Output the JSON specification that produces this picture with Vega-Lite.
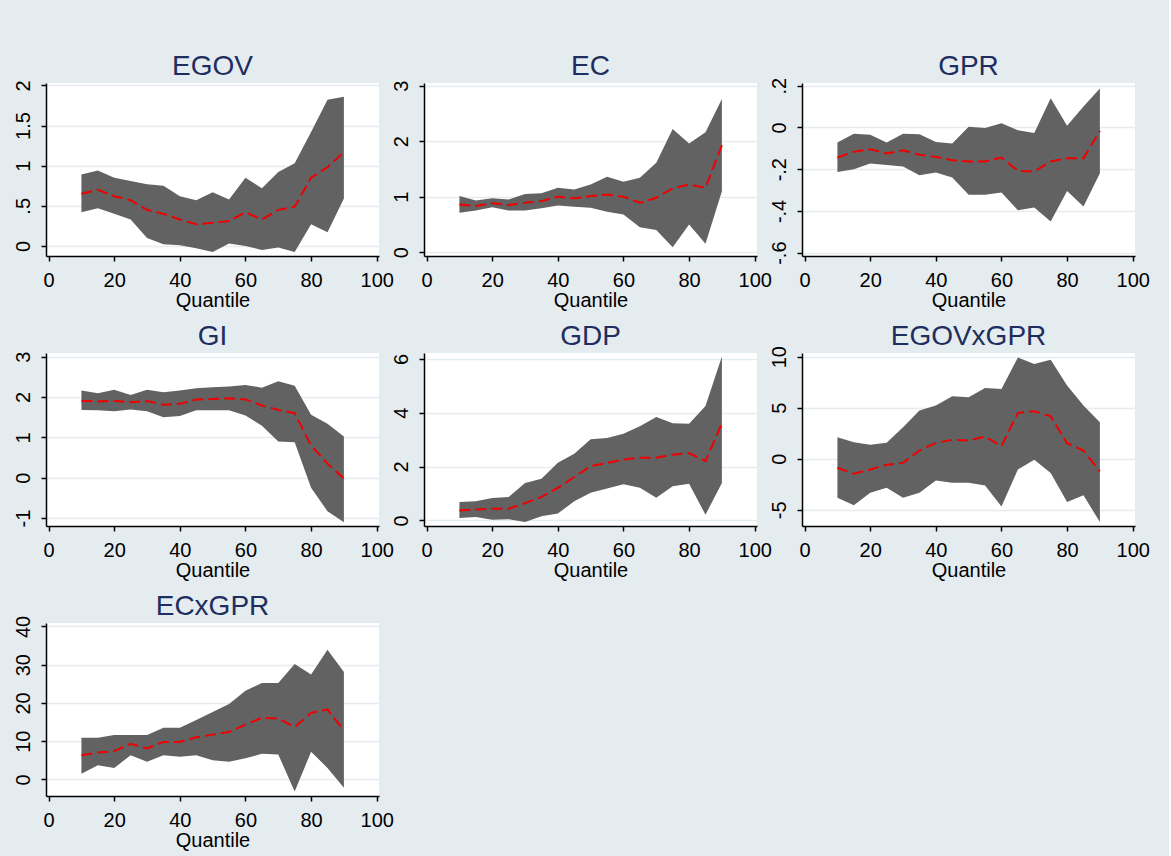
{
  "$schema": "https://vega.github.io/schema/vega-lite/v6.json",
  "padding": {"left": 12, "top": 52, "right": 19, "bottom": 13},
  "bounds": "flush",
  "columns": 3,
  "spacing": {"row": 97, "column": 45},
  "datasets": {
    "qr": [
      {"v":"EGOV","q":10,"lo":0.42,"hi":0.89,"b":0.65},{"v":"EGOV","q":15,"lo":0.47,"hi":0.94,"b":0.70},{"v":"EGOV","q":20,"lo":0.40,"hi":0.85,"b":0.62},{"v":"EGOV","q":25,"lo":0.33,"hi":0.81,"b":0.57},{"v":"EGOV","q":30,"lo":0.10,"hi":0.77,"b":0.45},{"v":"EGOV","q":35,"lo":0.02,"hi":0.75,"b":0.40},{"v":"EGOV","q":40,"lo":0.01,"hi":0.62,"b":0.33},{"v":"EGOV","q":45,"lo":-0.03,"hi":0.57,"b":0.27},{"v":"EGOV","q":50,"lo":-0.075,"hi":0.67,"b":0.29},{"v":"EGOV","q":55,"lo":0.03,"hi":0.58,"b":0.31},{"v":"EGOV","q":60,"lo":0.0,"hi":0.85,"b":0.42},{"v":"EGOV","q":65,"lo":-0.05,"hi":0.72,"b":0.33},{"v":"EGOV","q":70,"lo":-0.02,"hi":0.92,"b":0.45},{"v":"EGOV","q":75,"lo":-0.075,"hi":1.03,"b":0.49},{"v":"EGOV","q":80,"lo":0.27,"hi":1.42,"b":0.85},{"v":"EGOV","q":85,"lo":0.17,"hi":1.82,"b":0.98},{"v":"EGOV","q":90,"lo":0.59,"hi":1.86,"b":1.17},
      {"v":"EC","q":10,"lo":0.71,"hi":1.01,"b":0.86},{"v":"EC","q":15,"lo":0.75,"hi":0.93,"b":0.83},{"v":"EC","q":20,"lo":0.81,"hi":0.97,"b":0.88},{"v":"EC","q":25,"lo":0.75,"hi":0.95,"b":0.85},{"v":"EC","q":30,"lo":0.75,"hi":1.05,"b":0.89},{"v":"EC","q":35,"lo":0.79,"hi":1.06,"b":0.92},{"v":"EC","q":40,"lo":0.84,"hi":1.16,"b":1.0},{"v":"EC","q":45,"lo":0.82,"hi":1.13,"b":0.97},{"v":"EC","q":50,"lo":0.80,"hi":1.22,"b":1.01},{"v":"EC","q":55,"lo":0.73,"hi":1.36,"b":1.04},{"v":"EC","q":60,"lo":0.68,"hi":1.27,"b":1.0},{"v":"EC","q":65,"lo":0.45,"hi":1.34,"b":0.89},{"v":"EC","q":70,"lo":0.40,"hi":1.61,"b":0.98},{"v":"EC","q":75,"lo":0.09,"hi":2.22,"b":1.15},{"v":"EC","q":80,"lo":0.50,"hi":1.96,"b":1.22},{"v":"EC","q":85,"lo":0.15,"hi":2.16,"b":1.16},{"v":"EC","q":90,"lo":1.10,"hi":2.76,"b":1.93},
      {"v":"GPR","q":10,"lo":-0.213,"hi":-0.072,"b":-0.144},{"v":"GPR","q":15,"lo":-0.2,"hi":-0.03,"b":-0.117},{"v":"GPR","q":20,"lo":-0.173,"hi":-0.035,"b":-0.104},{"v":"GPR","q":25,"lo":-0.18,"hi":-0.072,"b":-0.125},{"v":"GPR","q":30,"lo":-0.187,"hi":-0.03,"b":-0.109},{"v":"GPR","q":35,"lo":-0.229,"hi":-0.032,"b":-0.131},{"v":"GPR","q":40,"lo":-0.216,"hi":-0.07,"b":-0.141},{"v":"GPR","q":45,"lo":-0.24,"hi":-0.077,"b":-0.157},{"v":"GPR","q":50,"lo":-0.322,"hi":0.003,"b":-0.163},{"v":"GPR","q":55,"lo":-0.322,"hi":-0.003,"b":-0.163},{"v":"GPR","q":60,"lo":-0.312,"hi":0.02,"b":-0.144},{"v":"GPR","q":65,"lo":-0.397,"hi":-0.013,"b":-0.208},{"v":"GPR","q":70,"lo":-0.384,"hi":-0.027,"b":-0.211},{"v":"GPR","q":75,"lo":-0.451,"hi":0.14,"b":-0.163},{"v":"GPR","q":80,"lo":-0.304,"hi":0.008,"b":-0.147},{"v":"GPR","q":85,"lo":-0.379,"hi":0.10,"b":-0.147},{"v":"GPR","q":90,"lo":-0.219,"hi":0.187,"b":-0.016},
      {"v":"GI","q":10,"lo":1.68,"hi":2.16,"b":1.91},{"v":"GI","q":15,"lo":1.67,"hi":2.09,"b":1.89},{"v":"GI","q":20,"lo":1.65,"hi":2.18,"b":1.91},{"v":"GI","q":25,"lo":1.69,"hi":2.05,"b":1.87},{"v":"GI","q":30,"lo":1.65,"hi":2.18,"b":1.90},{"v":"GI","q":35,"lo":1.50,"hi":2.12,"b":1.81},{"v":"GI","q":40,"lo":1.53,"hi":2.16,"b":1.83},{"v":"GI","q":45,"lo":1.67,"hi":2.22,"b":1.94},{"v":"GI","q":50,"lo":1.67,"hi":2.24,"b":1.95},{"v":"GI","q":55,"lo":1.67,"hi":2.26,"b":1.97},{"v":"GI","q":60,"lo":1.54,"hi":2.30,"b":1.94},{"v":"GI","q":65,"lo":1.29,"hi":2.23,"b":1.79},{"v":"GI","q":70,"lo":0.90,"hi":2.39,"b":1.68},{"v":"GI","q":75,"lo":0.88,"hi":2.28,"b":1.60},{"v":"GI","q":80,"lo":-0.25,"hi":1.56,"b":0.80},{"v":"GI","q":85,"lo":-0.83,"hi":1.34,"b":0.35},{"v":"GI","q":90,"lo":-1.10,"hi":1.02,"b":-0.02},
      {"v":"GDP","q":10,"lo":0.09,"hi":0.68,"b":0.37},{"v":"GDP","q":15,"lo":0.12,"hi":0.71,"b":0.40},{"v":"GDP","q":20,"lo":0.02,"hi":0.83,"b":0.43},{"v":"GDP","q":25,"lo":0.04,"hi":0.87,"b":0.43},{"v":"GDP","q":30,"lo":-0.06,"hi":1.39,"b":0.64},{"v":"GDP","q":35,"lo":0.15,"hi":1.55,"b":0.87},{"v":"GDP","q":40,"lo":0.25,"hi":2.14,"b":1.21},{"v":"GDP","q":45,"lo":0.71,"hi":2.48,"b":1.61},{"v":"GDP","q":50,"lo":1.03,"hi":3.01,"b":2.02},{"v":"GDP","q":55,"lo":1.18,"hi":3.06,"b":2.13},{"v":"GDP","q":60,"lo":1.34,"hi":3.22,"b":2.26},{"v":"GDP","q":65,"lo":1.21,"hi":3.50,"b":2.33},{"v":"GDP","q":70,"lo":0.84,"hi":3.84,"b":2.33},{"v":"GDP","q":75,"lo":1.27,"hi":3.61,"b":2.44},{"v":"GDP","q":80,"lo":1.36,"hi":3.59,"b":2.50},{"v":"GDP","q":85,"lo":0.21,"hi":4.25,"b":2.20},{"v":"GDP","q":90,"lo":1.39,"hi":6.09,"b":3.61},
      {"v":"EGOVxGPR","q":10,"lo":-3.81,"hi":2.12,"b":-0.88},{"v":"EGOVxGPR","q":15,"lo":-4.56,"hi":1.63,"b":-1.47},{"v":"EGOVxGPR","q":20,"lo":-3.32,"hi":1.37,"b":-1.04},{"v":"EGOVxGPR","q":25,"lo":-2.83,"hi":1.56,"b":-0.59},{"v":"EGOVxGPR","q":30,"lo":-3.81,"hi":3.09,"b":-0.39},{"v":"EGOVxGPR","q":35,"lo":-3.32,"hi":4.72,"b":0.81},{"v":"EGOVxGPR","q":40,"lo":-2.12,"hi":5.21,"b":1.56},{"v":"EGOVxGPR","q":45,"lo":-2.35,"hi":6.12,"b":1.86},{"v":"EGOVxGPR","q":50,"lo":-2.35,"hi":6.03,"b":1.79},{"v":"EGOVxGPR","q":55,"lo":-2.61,"hi":6.94,"b":2.18},{"v":"EGOVxGPR","q":60,"lo":-4.66,"hi":6.84,"b":1.24},{"v":"EGOVxGPR","q":65,"lo":-1.04,"hi":9.93,"b":4.50},{"v":"EGOVxGPR","q":70,"lo":-0.10,"hi":9.28,"b":4.66},{"v":"EGOVxGPR","q":75,"lo":-1.40,"hi":9.71,"b":4.17},{"v":"EGOVxGPR","q":80,"lo":-4.23,"hi":7.17,"b":1.53},{"v":"EGOVxGPR","q":85,"lo":-3.58,"hi":5.21,"b":0.81},{"v":"EGOVxGPR","q":90,"lo":-6.19,"hi":3.58,"b":-1.24},
      {"v":"ECxGPR","q":10,"lo":1.5,"hi":10.9,"b":6.3},{"v":"ECxGPR","q":15,"lo":3.7,"hi":10.9,"b":7.0},{"v":"ECxGPR","q":20,"lo":3.0,"hi":11.6,"b":7.4},{"v":"ECxGPR","q":25,"lo":6.3,"hi":11.6,"b":9.3},{"v":"ECxGPR","q":30,"lo":4.6,"hi":11.6,"b":8.1},{"v":"ECxGPR","q":35,"lo":6.3,"hi":13.5,"b":9.8},{"v":"ECxGPR","q":40,"lo":5.9,"hi":13.5,"b":9.8},{"v":"ECxGPR","q":45,"lo":6.3,"hi":15.5,"b":11.0},{"v":"ECxGPR","q":50,"lo":5.0,"hi":17.6,"b":11.7},{"v":"ECxGPR","q":55,"lo":4.6,"hi":19.7,"b":12.4},{"v":"ECxGPR","q":60,"lo":5.5,"hi":23.2,"b":14.3},{"v":"ECxGPR","q":65,"lo":6.7,"hi":25.2,"b":16.1},{"v":"ECxGPR","q":70,"lo":6.5,"hi":25.2,"b":15.9},{"v":"ECxGPR","q":75,"lo":-3.2,"hi":30.2,"b":13.7},{"v":"ECxGPR","q":80,"lo":7.2,"hi":27.4,"b":17.4},{"v":"ECxGPR","q":85,"lo":3.0,"hi":33.9,"b":18.3},{"v":"ECxGPR","q":90,"lo":-2.2,"hi":28.1,"b":12.8}
    ]
  },
  "concat": [
    {
      "title": {"text": "EGOV", "offset": -1.2}, "width": 333, "height": 173, "data": {"name": "qr"},
      "transform": [{"filter": "datum.v == 'EGOV'"}],
      "encoding": {"x": {"field": "q", "type": "quantitative", "title": "Quantile", "scale": {"domain": [-0.8, 100.7], "nice": false, "zero": false}, "axis": {"values": [0, 20, 40, 60, 80, 100]}}},
      "layer": [
        {"mark": {"type": "area", "color": "#626262", "opacity": 1}, "encoding": {"y": {"field": "lo", "type": "quantitative", "title": null, "scale": {"domain": [-0.125, 2.03], "nice": false, "zero": false}, "axis": {"values": [0, 0.5, 1, 1.5, 2]}}, "y2": {"field": "hi"}}},
        {"mark": {"type": "line", "color": "#f00000", "strokeWidth": 2, "strokeDash": [11, 5]}, "encoding": {"y": {"field": "b", "type": "quantitative", "title": null}}}
      ]
    },
    {
      "title": {"text": "EC", "offset": -0.8}, "width": 333, "height": 173, "data": {"name": "qr"},
      "transform": [{"filter": "datum.v == 'EC'"}],
      "encoding": {"x": {"field": "q", "type": "quantitative", "title": "Quantile", "scale": {"domain": [-0.8, 100.7], "nice": false, "zero": false}, "axis": {"values": [0, 20, 40, 60, 80, 100]}}},
      "layer": [
        {"mark": {"type": "area", "color": "#626262", "opacity": 1}, "encoding": {"y": {"field": "lo", "type": "quantitative", "title": null, "scale": {"domain": [-0.07, 3.05], "nice": false, "zero": false}, "axis": {"values": [0, 1, 2, 3]}}, "y2": {"field": "hi"}}},
        {"mark": {"type": "line", "color": "#f00000", "strokeWidth": 2, "strokeDash": [11, 5]}, "encoding": {"y": {"field": "b", "type": "quantitative", "title": null}}}
      ]
    },
    {
      "title": {"text": "GPR", "offset": -3.6}, "width": 333, "height": 173, "data": {"name": "qr"},
      "transform": [{"filter": "datum.v == 'GPR'"}],
      "encoding": {"x": {"field": "q", "type": "quantitative", "title": "Quantile", "scale": {"domain": [-0.8, 100.7], "nice": false, "zero": false}, "axis": {"values": [0, 20, 40, 60, 80, 100]}}},
      "layer": [
        {"mark": {"type": "area", "color": "#626262", "opacity": 1}, "encoding": {"y": {"field": "lo", "type": "quantitative", "title": null, "scale": {"domain": [-0.616, 0.213], "nice": false, "zero": false}, "axis": {"values": [-0.6, -0.4, -0.2, 0, 0.2]}}, "y2": {"field": "hi"}}},
        {"mark": {"type": "line", "color": "#f00000", "strokeWidth": 2, "strokeDash": [11, 5]}, "encoding": {"y": {"field": "b", "type": "quantitative", "title": null}}}
      ]
    },
    {
      "title": {"text": "GI", "offset": 0}, "width": 333, "height": 173, "data": {"name": "qr"},
      "transform": [{"filter": "datum.v == 'GI'"}],
      "encoding": {"x": {"field": "q", "type": "quantitative", "title": "Quantile", "scale": {"domain": [-0.8, 100.7], "nice": false, "zero": false}, "axis": {"values": [0, 20, 40, 60, 80, 100]}}},
      "layer": [
        {"mark": {"type": "area", "color": "#626262", "opacity": 1}, "encoding": {"y": {"field": "lo", "type": "quantitative", "title": null, "scale": {"domain": [-1.195, 3.09], "nice": false, "zero": false}, "axis": {"values": [-1, 0, 1, 2, 3]}}, "y2": {"field": "hi"}}},
        {"mark": {"type": "line", "color": "#f00000", "strokeWidth": 2, "strokeDash": [11, 5]}, "encoding": {"y": {"field": "b", "type": "quantitative", "title": null}}}
      ]
    },
    {
      "title": {"text": "GDP", "offset": 2}, "width": 333, "height": 173, "data": {"name": "qr"},
      "transform": [{"filter": "datum.v == 'GDP'"}],
      "encoding": {"x": {"field": "q", "type": "quantitative", "title": "Quantile", "scale": {"domain": [-0.8, 100.7], "nice": false, "zero": false}, "axis": {"values": [0, 20, 40, 60, 80, 100]}}},
      "layer": [
        {"mark": {"type": "area", "color": "#626262", "opacity": 1}, "encoding": {"y": {"field": "lo", "type": "quantitative", "title": null, "scale": {"domain": [-0.21, 6.22], "nice": false, "zero": false}, "axis": {"values": [0, 2, 4, 6]}}, "y2": {"field": "hi"}}},
        {"mark": {"type": "line", "color": "#f00000", "strokeWidth": 2, "strokeDash": [11, 5]}, "encoding": {"y": {"field": "b", "type": "quantitative", "title": null}}}
      ]
    },
    {
      "title": {"text": "EGOVxGPR", "offset": -5.4}, "width": 333, "height": 173, "data": {"name": "qr"},
      "transform": [{"filter": "datum.v == 'EGOVxGPR'"}],
      "encoding": {"x": {"field": "q", "type": "quantitative", "title": "Quantile", "scale": {"domain": [-0.8, 100.7], "nice": false, "zero": false}, "axis": {"values": [0, 20, 40, 60, 80, 100]}}},
      "layer": [
        {"mark": {"type": "area", "color": "#626262", "opacity": 1}, "encoding": {"y": {"field": "lo", "type": "quantitative", "title": null, "scale": {"domain": [-6.58, 10.36], "nice": false, "zero": false}, "axis": {"values": [-5, 0, 5, 10]}}, "y2": {"field": "hi"}}},
        {"mark": {"type": "line", "color": "#f00000", "strokeWidth": 2, "strokeDash": [11, 5]}, "encoding": {"y": {"field": "b", "type": "quantitative", "title": null}}}
      ]
    },
    {
      "title": {"text": "ECxGPR", "offset": -5.7}, "width": 333, "height": 173, "data": {"name": "qr"},
      "transform": [{"filter": "datum.v == 'ECxGPR'"}],
      "encoding": {"x": {"field": "q", "type": "quantitative", "title": "Quantile", "scale": {"domain": [-0.8, 100.7], "nice": false, "zero": false}, "axis": {"values": [0, 20, 40, 60, 80, 100]}}},
      "layer": [
        {"mark": {"type": "area", "color": "#626262", "opacity": 1}, "encoding": {"y": {"field": "lo", "type": "quantitative", "title": null, "scale": {"domain": [-4.35, 40.9], "nice": false, "zero": false}, "axis": {"values": [0, 10, 20, 30, 40]}}, "y2": {"field": "hi"}}},
        {"mark": {"type": "line", "color": "#f00000", "strokeWidth": 2, "strokeDash": [11, 5]}, "encoding": {"y": {"field": "b", "type": "quantitative", "title": null}}}
      ]
    }
  ],
  "config": {
    "background": "#e5ecf0",
    "font": "Liberation Sans",
    "view": {"fill": "white", "stroke": null},
    "axis": {
      "domainColor": "#000000", "domainWidth": 1.5, "tickColor": "#000000", "tickWidth": 1.5, "tickSize": 5,
      "labelFont": "Liberation Sans", "labelFontSize": 20, "labelColor": "#000000",
      "labelFlush": false, "labelOverlap": false, "labelBound": false,
      "titleFont": "Liberation Sans", "titleFontSize": 20, "titleFontWeight": "normal", "titleColor": "#000000",
      "gridColor": "#e5ecf0", "gridWidth": 1.5
    },
    "axisX": {"grid": false, "labelPadding": 9, "titlePadding": 0},
    "axisY": {"grid": true, "labelAngle": -90, "labelPadding": 8,
      "labelExpr": "datum.value != 0 && abs(datum.value) < 1 ? (datum.value < 0 ? '-' : '') + substring('' + abs(datum.value), 1) : '' + datum.value"},
    "title": {"fontSize": 28, "fontWeight": "normal", "color": "#1e2e5e", "frame": "group", "anchor": "middle", "font": "Liberation Sans"}
  }
}
